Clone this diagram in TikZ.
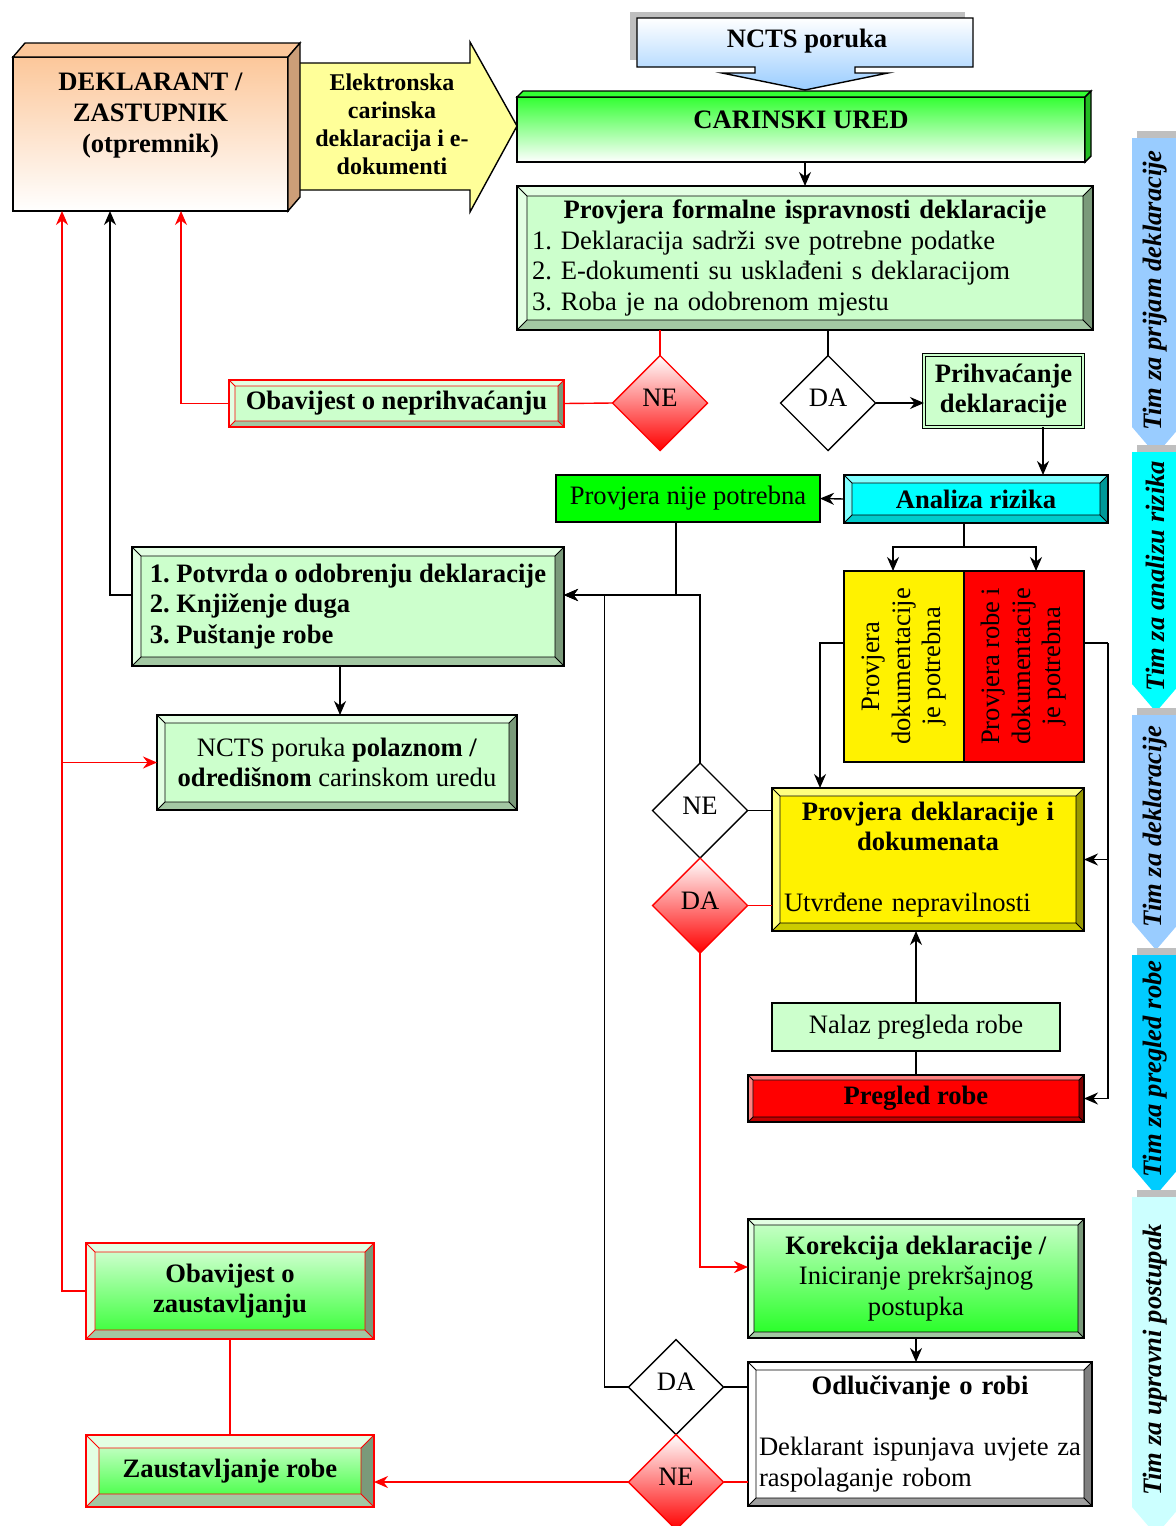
\documentclass[tikz,border=0pt]{standalone}
\usepackage{fontspec}
\setmainfont{Liberation Serif}
\usepackage{graphicx}
\usepackage{tikz}
\usetikzlibrary{arrows.meta,calc,shapes.geometric}

\definecolor{lgreen}{HTML}{CCFFCC}
\definecolor{bvlight}{HTML}{E3FFE3}
\definecolor{bvdark}{HTML}{7A9A7A}
\definecolor{bvmid}{HTML}{A3C8A3}
\definecolor{peach}{HTML}{FCC79A}
\definecolor{sidetan}{HTML}{CC9E78}
\definecolor{paleyel}{HTML}{FFFF99}
\definecolor{skyb}{HTML}{99CCFF}
\definecolor{deepsky}{HTML}{00CCFF}
\definecolor{icecyan}{HTML}{CCFFFF}
\definecolor{aqua}{HTML}{00FFFF}
\definecolor{brgreen}{HTML}{33FF33}
\definecolor{vgreen}{HTML}{22FF22}
\definecolor{dkgreen}{HTML}{22BB22}
\definecolor{cyanlight}{HTML}{80FFFF}
\definecolor{cyandark}{HTML}{009999}
\definecolor{cyanmid}{HTML}{00CCCC}
\definecolor{yellight}{HTML}{FFFF80}
\definecolor{yeldark}{HTML}{999900}
\definecolor{yelmid}{HTML}{CCCC00}
\definecolor{redlight}{HTML}{FF8080}
\definecolor{reddark}{HTML}{800000}
\definecolor{redmid}{HTML}{C00000}
\definecolor{gydark}{HTML}{808080}
\definecolor{gymid}{HTML}{A0A0A0}

\newcommand\bodyfont{\fontsize{13.3}{15.3}\selectfont}
\newlength\bw
\setlength\bw{4pt}
\newlength\dokw
\frenchspacing

\tikzset{
  sz/.style 2 args={minimum width=#1*0.5pt, minimum height=#2*0.5pt},
  bw/.code={\setlength\bw{#1}},
  bline/.store in=\blinecol, bline=black,
  bevel/.style n args={4}{#1, path picture={
    \coordinate (p1) at (path picture bounding box.south west);
    \coordinate (p3) at (path picture bounding box.north east);
    \coordinate (p2) at (p1 |- p3);
    \coordinate (p4) at (p3 |- p1);
    \coordinate (q1) at ([shift={(\bw,\bw)}]p1);
    \coordinate (q2) at ([shift={(\bw,-\bw)}]p2);
    \coordinate (q3) at ([shift={(-\bw,-\bw)}]p3);
    \coordinate (q4) at ([shift={(-\bw,\bw)}]p4);
    \fill[#2] (p1) -- (p2) -- (p3) -- (q3) -- (q2) -- (q1) -- cycle;
    \fill[#3] (p3) -- (p4) -- (q4) -- (q3) -- cycle;
    \fill[#4] (p4) -- (p1) -- (q1) -- (q4) -- cycle;
    \draw[\blinecol, line width=.4pt] (q1) rectangle (q3) (p1) -- (q1) (p2) -- (q2) (p3) -- (q3) (p4) -- (q4);
  }},
  gbevel/.style={bevel={fill=lgreen}{bvlight}{bvdark}{bvmid}},
  dia/.style={diamond, draw, fill=white, aspect=1, minimum width=47.5pt, minimum height=47.5pt, inner sep=0pt, text depth=5pt},
  rdia/.style={dia, draw=red, top color=white, bottom color=red},
  tim/.style={rotate=90, font=\bodyfont\bfseries\itshape},
}

\begin{document}
\begin{tikzpicture}[x=0.5pt, y=-0.5pt, line width=0.7pt, >={Stealth[length=7pt,width=6pt]},
  every node/.style={font=\bodyfont, inner sep=2pt, outer sep=0pt}]
\useasboundingbox (0,0) rectangle (1176,1526);

% side banners
\foreach \ya/\yb/\col/\txt [count=\i] in {138/455/skyb/Tim za prijam deklaracije, 452/712/aqua/Tim za analizu rizika, 715/950/skyb/Tim za deklaracije, 955/1195/deepsky/Tim za pregled robe, 1197/1535/icecyan/Tim za upravni postupak} {
  \fill[black!25, shift={(5,-7)}] (1132,\ya) -- (1180,\ya) -- (1180,\yb-28) -- (1156,\yb) -- (1132,\yb-28) -- cycle;
  \fill[\col] (1132,\ya) -- (1180,\ya) -- (1180,\yb-28) -- (1156,\yb) -- (1132,\yb-28) -- cycle;
  \node[tim] (tim\i) at (1155,{(\ya+\yb)/2-6}) {\txt};
}

% declarant and message arrow
\draw[fill=paleyel] (296,63) -- (470,63) -- (470,42) -- (517,126) -- (470,212) -- (470,190) -- (296,190) -- cycle;
\node[font=\fontsize{12}{14}\selectfont\bfseries, align=center] (edoc) at (392,124) {Elektronska\\carinska\\deklaracija i e-\\dokumenti};
\node[draw, top color=peach, bottom color=white, sz={275}{154}, align=center, font=\bodyfont\bfseries] (dekl) at (150.5,134) {DEKLARANT /\\ZASTUPNIK\\(otpremnik)\\[6pt]~};
\draw[fill=peach] (dekl.north west) -- ++(6pt,7pt) -- ([shift={(6pt,7pt)}]dekl.north east) -- (dekl.north east) -- cycle;
\draw[fill=sidetan] (dekl.north east) -- ++(6pt,7pt) -- ([shift={(6pt,7pt)}]dekl.south east) -- (dekl.south east) -- cycle;

% NCTS callout
\fill[black!25] (630,12) rectangle (965,60);
\draw[top color=white, bottom color=skyb] (637,18) -- (973,18) -- (973,67) -- (855,67) -- (855,73) -- (888,73) -- (805,90) -- (722,73) -- (755,73) -- (755,67) -- (637,67) -- cycle;
\node[font=\bodyfont\bfseries] (ncts) at (807,41) {NCTS poruka};

% customs office
\node[draw, top color=brgreen, bottom color=white, sz={568}{65}, text depth=10pt, font=\bodyfont\bfseries] (ured) at (801,129.5) {CARINSKI URED};
\draw[fill=brgreen] (ured.north west) -- ++(3pt,3pt) -- ([shift={(3pt,3pt)}]ured.north east) -- (ured.north east) -- cycle;
\draw[fill=dkgreen] (ured.north east) -- ++(3pt,3pt) -- ([shift={(3pt,3pt)}]ured.south east) -- (ured.south east) -- cycle;

\node[gbevel, bw=5pt, draw, sz={576}{144}, text width=273pt, align=left] (formal) at (805,258)
  {\mbox{}\hfill\textbf{Provjera formalne ispravnosti deklaracije}\hfill\mbox{}\\1. Deklaracija sadrži sve potrebne podatke\\2. E-dokumenti su usklađeni s deklaracijom\\3. Roba je na odobrenom mjestu};
\node[rdia] (ne1) at (660,403) {NE};
\node[dia] (da1) at (828,403) {DA};
\node[gbevel, bw=3pt, bline=red, draw=red, sz={335}{47}, font=\bodyfont\bfseries] (odbij) at (396.5,403.5) {Obavijest o neprihvaćanju};
\node[draw, double=lgreen, double distance=1.2pt, line width=0.5pt, fill=lgreen, sz={159}{72}, align=center, font=\bodyfont\bfseries] (prihv) at (1003.5,391) {Prihvaćanje\\deklaracije};

% risk analysis
\node[bevel={fill=aqua}{cyanlight}{cyandark}{cyanmid}, bw=4pt, draw, sz={264}{48}, font=\bodyfont\bfseries] (rizik) at (976,499) {Analiza rizika};
\node[draw, fill=green, line width=1pt, sz={264}{47}] (nijep) at (688,498.5) {Provjera nije potrebna};
\node[draw, fill=yellow, sz={120}{191}] (dokp) at (904,666.5) {\rotatebox{90}{\begin{tabular}{@{}c@{}}Provjera\\dokumentacije\\je potrebna\end{tabular}}};
\node[draw, fill=red, sz={120}{191}] (robep) at (1024,666.5) {\rotatebox{90}{\begin{tabular}{@{}c@{}}\settowidth\dokw{dokumentacije}\makebox[\dokw][s]{Provjera robe i}\\dokumentacije\\je potrebna\end{tabular}}};

\node[gbevel, bw=4.5pt, draw, sz={432}{119}, align=left, font=\bodyfont\bfseries] (potvrda) at (348,606.5) {1. Potvrda o odobrenju deklaracije\\2. Knjiženje duga\\3. Puštanje robe};
\node[gbevel, bw=4pt, draw, sz={360}{95}, align=center] (nctsmsg) at (337,762.5) {NCTS poruka \textbf{polaznom /}\\\textbf{odredišnom} carinskom uredu};

% checks
\node[bevel={fill=yellow}{yellight}{yeldark}{yelmid}, bw=4pt, draw, sz={312}{143}, text width=144pt, align=left] (provdek) at (928,859.5)
  {\mbox{}\hfill\textbf{Provjera deklaracije i}\hfill\mbox{}\\\mbox{}\hfill\textbf{dokumenata}\hfill\mbox{}\\~\\Utvrđene nepravilnosti};
\node[dia] (ne2) at (700,810.5) {NE};
\node[rdia] (da2) at (700,905.5) {DA};
\node[draw, fill=lgreen, sz={288}{48}] (nalaz) at (916,1027) {Nalaz pregleda robe};
\node[bevel={fill=red}{redlight}{reddark}{redmid}, bw=2.5pt, draw, sz={336}{47}, font=\bodyfont\bfseries] (pregled) at (916,1098.5) {Pregled robe};

% administrative procedure
\node[bevel={top color=lgreen, bottom color=vgreen}{bvlight}{bvdark}{bvmid}, bw=3pt, draw, sz={336}{119}, align=center] (korek) at (916,1278.5) {\textbf{Korekcija deklaracije /}\\Iniciranje prekršajnog\\postupka};
\node[bevel={fill=white}{white}{gydark}{gymid}, bw=4pt, draw, sz={344}{144}, text width=161pt, align=left] (odluka) at (920,1434)
  {\mbox{}\hfill\textbf{Odlučivanje o robi}\hfill\mbox{}\\~\\\mbox{Deklarant ispunjava uvjete za}\\raspolaganje robom};
\node[dia] (da3) at (676,1387) {DA};
\node[rdia] (ne3) at (676,1482) {NE};
\node[bevel={top color=lgreen!70!white, bottom color=brgreen}{bvlight}{bvdark}{bvmid}, bw=4.5pt, bline=red, draw=red, sz={288}{96}, align=center, font=\bodyfont\bfseries] (obzaust) at (230,1291) {Obavijest o\\zaustavljanju};
\node[bevel={top color=lgreen!70!white, bottom color=brgreen}{bvlight}{bvdark}{bvmid}, bw=6.5pt, bline=red, draw=red, sz={288}{72}, font=\bodyfont\bfseries] (zaust) at (230,1471) {Zaustavljanje robe};

% connectors
\coordinate (dr) at ([xshift=15.25pt]dekl.south);
\coordinate (dk) at ([xshift=-20.25pt]dekl.south);
\coordinate (dl) at ([xshift=-44.25pt]dekl.south);
\coordinate (pr) at ([xshift=19.75pt]prihv.south);
\coordinate (pe) at ([yshift=5.75pt]potvrda.east);
\coordinate (pw) at ([yshift=5.75pt]potvrda.west);
\draw[->] (formal.north |- ured.south) -- (formal.north);
\draw[red] (ne1.north |- formal.south) -- (ne1.north);
\draw (da1.north |- formal.south) -- (da1.north);
\draw[red] (ne1.west) -- (odbij.east);
\draw[red,->] (odbij.west) -| (dr);
\draw[->] (da1.east) -- (da1.east -| prihv.west);
\draw[->] (pr) -- (pr |- rizik.north);
\draw[->] (rizik.west) -- (nijep.east);
\draw (rizik.south -| robep.west) -- ++(0,24) coordinate (rz);
\draw[->] (rz) -| ([xshift=-5.5pt]dokp.north);
\draw[->] (rz) -| ([xshift=6pt]robep.north);
\draw[->] ([xshift=-6pt]nijep.south) |- (pe);
\draw[->] (ne2.north) |- (pe);
\draw[->] (da3.west) -- ++(-12pt,0) |- (pe);
\draw[->] (pw) -| (dk);
\draw[->] ([xshift=-4pt]potvrda.south) -- ([xshift=-4pt]potvrda.south |- nctsmsg.north);
\draw[red,->] (obzaust.west) -| (dl);
\draw[red,->] (dl |- nctsmsg.west) -- (nctsmsg.west);
\draw[->] ([yshift=11.75pt]dokp.west) -| ([xshift=-54pt]provdek.north);
\draw ([yshift=11.75pt]robep.east) -- ++(12pt,0) coordinate (rb);
\draw[->] (rb) |- (provdek.east);
\draw[->] (rb) |- (pregled.east);
\draw (ne2.east) -- (ne2.east -| provdek.west);
\draw[red] (da2.east) -- (da2.east -| provdek.west);
\draw[red,->] (da2.south) |- ([yshift=5.75pt]korek.west);
\draw[->] (nalaz.north) -- (nalaz.north |- provdek.south);
\draw (pregled.north) -- (nalaz.south);
\draw[->] (korek.south) -- (korek.south |- odluka.north);
\draw (da3.east) -- (da3.east -| odluka.west);
\draw[red] (ne3.east) -- (ne3.east -| odluka.west);
\draw[red,->] (ne3.west) -- (ne3.west -| zaust.east);
\draw[red] (obzaust.south) -- (zaust.north);
\end{tikzpicture}
\end{document}
